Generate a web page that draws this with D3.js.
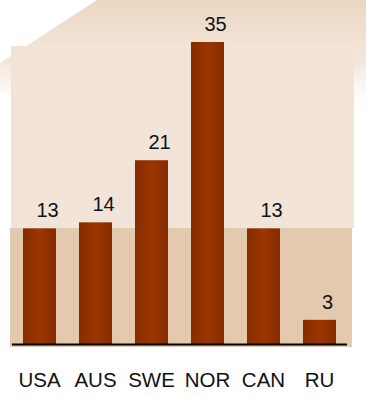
<!DOCTYPE html>
<html>
<head>
<meta charset="utf-8">
<script src="https://cdn.jsdelivr.net/npm/d3@7"></script>
<style>
  html, body { margin: 0; padding: 0; background: #ffffff; }
  svg { display: block; }
</style>
</head>
<body>
<script>
const categories = ["USA", "AUS", "SWE", "NOR", "CAN", "RU"];
const values = [13.4, 14.1, 21.3, 35, 13.4, 2.8];
const valueLabels = ["13", "14", "21", "35", "13", "3"];

const W = 366, H = 397;
const svg = d3.select("body").append("svg").attr("width", W).attr("height", H);
const defs = svg.append("defs");

const bgGrad = defs.append("linearGradient").attr("id", "bgGrad")
  .attr("x1", 0).attr("y1", 0).attr("x2", 0).attr("y2", 1);
bgGrad.append("stop").attr("offset", "0%").attr("stop-color", "#ebd7c3");
bgGrad.append("stop").attr("offset", "60%").attr("stop-color", "#f3e7dc");
bgGrad.append("stop").attr("offset", "100%").attr("stop-color", "#ffffff");

const barGrad = defs.append("linearGradient").attr("id", "barGrad")
  .attr("x1", 0).attr("y1", 0).attr("x2", 1).attr("y2", 0);
barGrad.append("stop").attr("offset", "0%").attr("stop-color", "#852c00");
barGrad.append("stop").attr("offset", "50%").attr("stop-color", "#9c3500");
barGrad.append("stop").attr("offset", "100%").attr("stop-color", "#852c00");

// back perspective wall
svg.append("path")
  .attr("d", "M97,0 L366,0 L366,102 L0,92 L0,63 Z")
  .attr("fill", "url(#bgGrad)")
  .attr("gradientUnits", "userSpaceOnUse");

const x = d3.scaleBand().domain(categories).range([11.5, 347.5])
  .paddingInner(0.41).paddingOuter(0.205);
const y = d3.scaleLinear().domain([0, 35]).range([344, 42]);

// panels
svg.append("rect").attr("x", 11).attr("y", 46).attr("width", 343).attr("height", 182)
  .attr("fill", "#f2e4d8");
svg.append("rect").attr("x", 10).attr("y", 228).attr("width", 342).attr("height", 119)
  .attr("fill", "#e3c9ae");

// bars
svg.append("g").selectAll("rect").data(categories).join("rect")
  .attr("x", d => x(d))
  .attr("y", (d, i) => y(values[i]))
  .attr("width", x.bandwidth())
  .attr("height", (d, i) => y(0) - y(values[i]))
  .attr("fill", "url(#barGrad)");

// axis baseline
const axis = svg.append("g").attr("transform", "translate(0,344.5)")
  .call(d3.axisBottom(x).tickSize(0).tickFormat(""));
axis.select(".domain").attr("stroke", "#000").attr("stroke-width", 2)
  .attr("d", "M12,0H347");

// value labels
svg.append("g").selectAll("text").data(categories).join("text")
  .attr("x", d => x(d) + x.bandwidth() / 2 + 8)
  .attr("y", (d, i) => y(values[i]) - 11)
  .attr("text-anchor", "middle")
  .attr("font-family", "Liberation Sans, Arial, sans-serif")
  .attr("font-size", 20)
  .attr("fill", "#111")
  .text((d, i) => valueLabels[i]);

// category labels
svg.append("g").selectAll("text").data(categories).join("text")
  .attr("x", d => x(d) + x.bandwidth() / 2)
  .attr("y", 387)
  .attr("text-anchor", "middle")
  .attr("font-family", "Liberation Sans, Arial, sans-serif")
  .attr("font-size", 20.5)
  .attr("fill", "#111")
  .text(d => d);
</script>
</body>
</html>
